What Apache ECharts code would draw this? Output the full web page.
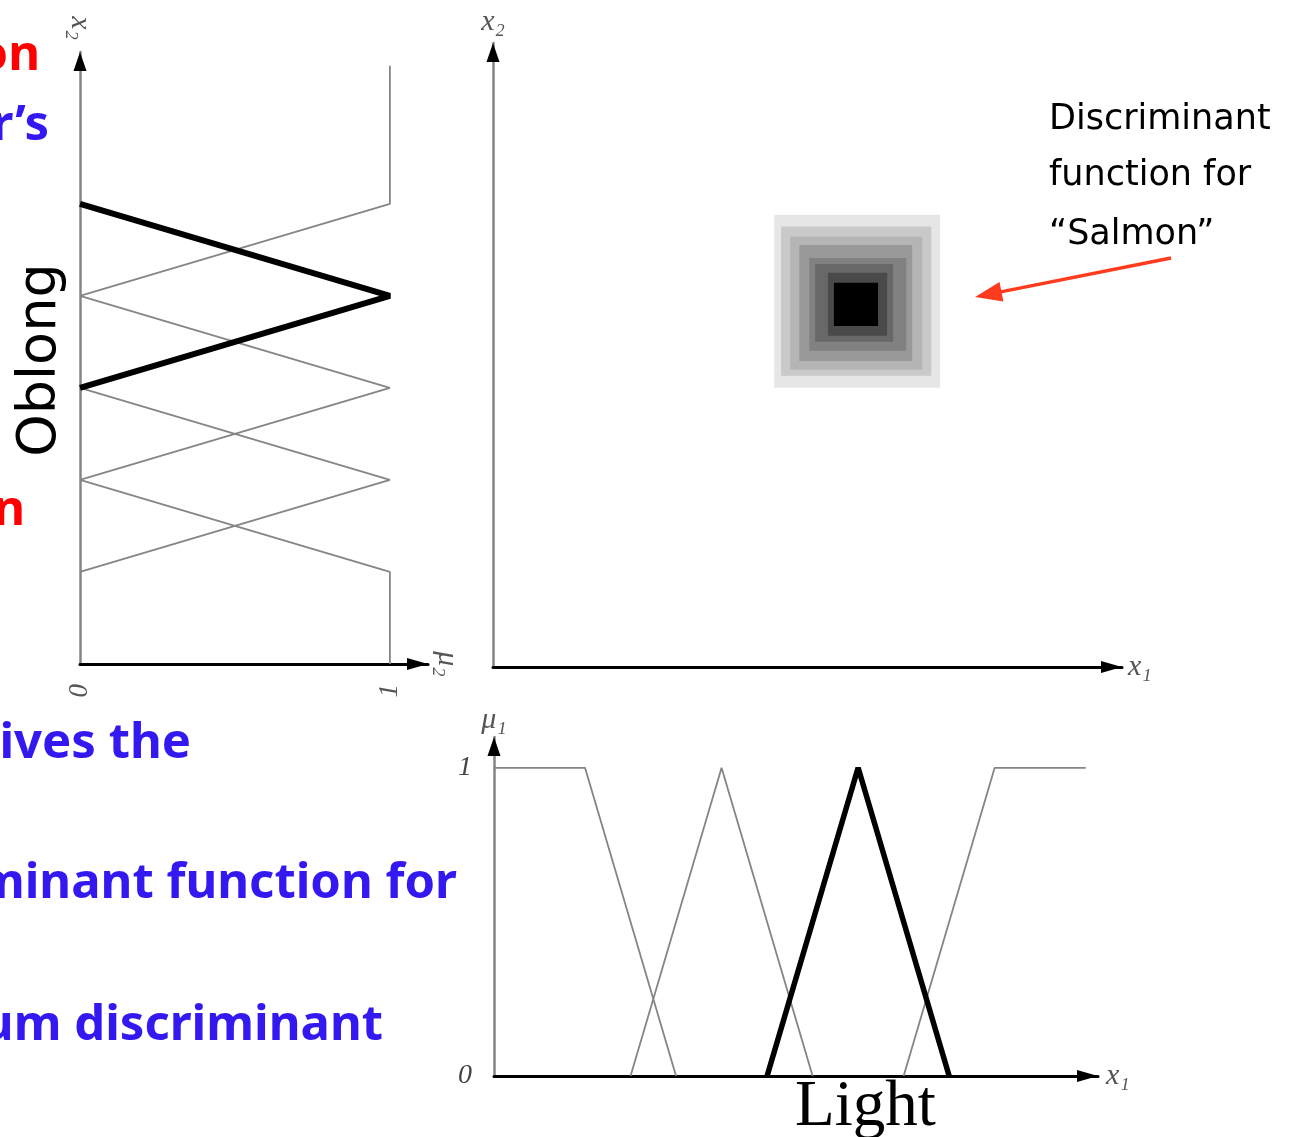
<!DOCTYPE html>
<html><head><meta charset="utf-8">
<script src="https://cdn.jsdelivr.net/npm/echarts@6/dist/echarts.min.js"></script>
<style>html,body{margin:0;padding:0;background:#fff;overflow:hidden}#c{width:1298px;height:1137px}</style>
</head><body><div id="c"></div>
<script>
// ---- left panel: membership functions of x2, points [mu2, x2]
const x2Top    = [[0, 8], [1, 10], [1, 13]];
const x2Oblong = [[0, 10], [1, 8], [0, 6]];
const x2Mid    = [[0, 8], [1, 6], [0, 4]];
const x2Low    = [[0, 6], [1, 4], [0, 2]];
const x2Bottom = [[0, 4], [1, 2], [1, 0]];
// ---- bottom panel: membership functions of x1, points [x1, mu1]
const x1First  = [[0, 1], [2, 1], [4, 0]];
const x1Second = [[3, 0], [5, 1], [7, 0]];
const x1Light  = [[6, 0], [8, 1], [10, 0]];
const x1Fourth = [[9, 0], [11, 1], [13, 1]];
// ---- main panel: discriminant function levels (outer to inner)
const levelX1Lo = [6.18, 6.33, 6.53, 6.73, 6.95, 7.08, 7.36, 7.49];
const levelX1Hi = [9.82, 9.63, 9.43, 9.21, 9.08, 8.79, 8.66, 8.46];
const levelX2Lo = [6.07, 6.33, 6.46, 6.65, 6.87, 7.07, 7.20, 7.41];
const levelX2Hi = [9.83, 9.57, 9.35, 9.17, 8.89, 8.76, 8.57, 8.35];
const levelGray = ['#e6e6e6', '#c9c9c9', '#b5b5b5', '#999999', '#818181', '#686868', '#4a4a4a', '#000000'];
// ---- tick labels
const muTicks = [0, 1];

const chart = echarts.init(document.getElementById('c'), null, {renderer: 'canvas'});
const SERIF = 'Liberation Serif';
const labelStyle = {fontFamily: SERIF, fontStyle: 'italic', color: '#555', fontSize: 27};
const nameStyle = {fontFamily: SERIF, fontStyle: 'italic', color: '#555', fontSize: 30};
const thin = {color: '#858585', width: 1.8};

function valAxis(o) {
  return Object.assign({
    type: 'value', splitLine: {show: false}, axisTick: {show: false},
    axisLabel: {show: false}
  }, o);
}
function hLine() {
  return {show: true, onZero: true, symbol: ['none', 'triangle'], symbolSize: [12, 21], symbolOffset: [0, -10.5],
    lineStyle: {color: '#000', width: 3}};
}
function vLine() {
  return {show: true, onZero: true, symbol: 'none', lineStyle: {color: '#858585', width: 2.5}};
}
function vArrow() {
  return {show: true, onZero: true, symbol: ['none', 'triangle'], symbolSize: [13, 19], symbolOffset: [0, -9.5],
    lineStyle: {color: '#000', width: 0.01}};
}

const levelData = levelGray.map((g, i) => [levelX1Lo[i], levelX1Hi[i], levelX2Lo[i], levelX2Hi[i], i]);

function lineSeries(data, xi, yi, style, z) {
  return {type: 'line', xAxisIndex: xi, yAxisIndex: yi, data: data, symbol: 'none', silent: true,
    lineStyle: style, z: z, animation: false};
}

// arrow annotation geometry
const arrowTail = [1171, 258];
const arrowTip = [975, 297];
const dx = arrowTip[0] - arrowTail[0], dy = arrowTip[1] - arrowTail[1];
const L = Math.hypot(dx, dy), ux = dx / L, uy = dy / L;
const headLen = 27, headHalf = 10;
const bx = arrowTip[0] - ux * headLen, by = arrowTip[1] - uy * headLen;

const option = {
  backgroundColor: '#fff',
  animation: false,
  grid: [
    {left: 80, top: 52, width: 348, height: 612},
    {left: 493, top: 43, width: 629, height: 624},
    {left: 494, top: 737, width: 604, height: 339}
  ],
  xAxis: [
    valAxis({gridIndex: 0, min: 0, max: 1.123, axisLine: hLine(),
      axisLabel: Object.assign({show: true, customValues: muTicks, rotate: 90, margin: 20}, labelStyle),
      name: 'μ₂', nameLocation: 'end', nameGap: 4, nameRotate: -90, nameTextStyle: nameStyle}),
    valAxis({gridIndex: 1, min: 0, max: 13.82, axisLine: hLine(),
      name: 'x₁', nameLocation: 'end', nameGap: 6, nameTextStyle: nameStyle}),
    valAxis({gridIndex: 2, min: 0, max: 13.27, axisLine: hLine(),
      name: 'x₁', nameLocation: 'end', nameGap: 8, nameTextStyle: nameStyle})
  ],
  yAxis: [
    valAxis({gridIndex: 0, min: 0, max: 13.3, axisLine: vLine(), position: 'left',
      name: 'x₂', nameLocation: 'end', nameGap: 12, nameRotate: -90, nameTextStyle: nameStyle}),
    valAxis({gridIndex: 1, min: 0, max: 13.56, axisLine: vLine(), position: 'left',
      name: 'x₂', nameLocation: 'end', nameGap: 6, nameTextStyle: nameStyle}),
    valAxis({gridIndex: 2, min: 0, max: 1.1, axisLine: vLine(), position: 'left',
      axisLabel: Object.assign({show: true, customValues: muTicks, margin: 22}, labelStyle, {fontSize: 28, color: '#444'}),
      name: 'μ₁', nameLocation: 'end', nameGap: 2, nameTextStyle: nameStyle}),
    valAxis({gridIndex: 0, min: 0, max: 13.3, axisLine: vArrow(), position: 'left'}),
    valAxis({gridIndex: 1, min: 0, max: 13.56, axisLine: vArrow(), position: 'left'}),
    valAxis({gridIndex: 2, min: 0, max: 1.1, axisLine: vArrow(), position: 'left'})
  ],
  series: [
    lineSeries(x2Top, 0, 0, thin, 2),
    lineSeries(x2Mid, 0, 0, thin, 2),
    lineSeries(x2Low, 0, 0, thin, 2),
    lineSeries(x2Bottom, 0, 0, thin, 2),
    lineSeries(x2Oblong, 0, 0, {color: '#000', width: 6}, 3),
    lineSeries(x1First, 2, 2, thin, 2),
    lineSeries(x1Second, 2, 2, thin, 2),
    lineSeries(x1Fourth, 2, 2, thin, 2),
    lineSeries(x1Light, 2, 2, {color: '#000', width: 5.5}, 3),
    {
      type: 'custom', xAxisIndex: 1, yAxisIndex: 1, data: levelData, silent: true,
      encode: {x: [0, 1], y: [2, 3]},
      renderItem: function (params, api) {
        const p0 = api.coord([api.value(0), api.value(3)]);
        const p1 = api.coord([api.value(1), api.value(2)]);
        return {type: 'rect', shape: {x: p0[0], y: p0[1], width: p1[0] - p0[0], height: p1[1] - p0[1]},
          style: {fill: levelGray[api.value(4)]}};
      }
    }
  ],
  graphic: [
    // cut-off slide text on the left
    {type: 'text', x: 40, y: 56, style: {text: 'ion', fill: '#ff0000', font: 'bold 49px "Noto Sans"', align: 'right', verticalAlign: 'middle'}},
    {type: 'text', x: 49, y: 126, style: {text: 'er’s', fill: '#3318f0', font: 'bold 49px "Noto Sans"', align: 'right', verticalAlign: 'middle'}},
    {type: 'text', x: 25, y: 511, style: {text: 'on', fill: '#ff0000', font: 'bold 49px "Noto Sans"', align: 'right', verticalAlign: 'middle'}},
    {type: 'text', x: 191, y: 744, style: {text: 'gives the', fill: '#3318f0', font: 'bold 49px "Noto Sans"', align: 'right', verticalAlign: 'middle'}},
    {type: 'text', x: 457, y: 884, style: {text: 'criminant function for', fill: '#3318f0', font: 'bold 49px "Noto Sans"', align: 'right', verticalAlign: 'middle'}},
    {type: 'text', x: 383, y: 1026, style: {text: 'imum discriminant', fill: '#3318f0', font: 'bold 49px "Noto Sans"', align: 'right', verticalAlign: 'middle'}},
    // Oblong (rotated)
    {type: 'text', x: 41, y: 360, rotation: Math.PI / 2, style: {text: 'Oblong', fill: '#000', font: '54px "DejaVu Sans"', align: 'center', verticalAlign: 'middle'}},
    // Light
    {type: 'text', x: 795, y: 1108, style: {text: 'Light', fill: '#000', font: '65px "Liberation Serif"', align: 'left', verticalAlign: 'middle'}},
    // Discriminant annotation
    {type: 'text', x: 1049, y: 120, style: {text: 'Discriminant', fill: '#000', font: '35px "DejaVu Sans"', align: 'left', verticalAlign: 'middle'}},
    {type: 'text', x: 1049, y: 176, style: {text: 'function for', fill: '#000', font: '35px "DejaVu Sans"', align: 'left', verticalAlign: 'middle'}},
    {type: 'text', x: 1049, y: 235, style: {text: '“Salmon”', fill: '#000', font: '35px "DejaVu Sans"', align: 'left', verticalAlign: 'middle'}},
    {type: 'line', shape: {x1: arrowTail[0], y1: arrowTail[1], x2: bx + ux * 2, y2: by + uy * 2}, style: {stroke: '#ff3b1f', lineWidth: 3.5}},
    {type: 'polygon', shape: {points: [arrowTip, [bx - uy * headHalf, by + ux * headHalf], [bx + uy * headHalf, by - ux * headHalf]]}, style: {fill: '#ff3b1f'}}
  ]
};
chart.setOption(option);
</script>
</body></html>
